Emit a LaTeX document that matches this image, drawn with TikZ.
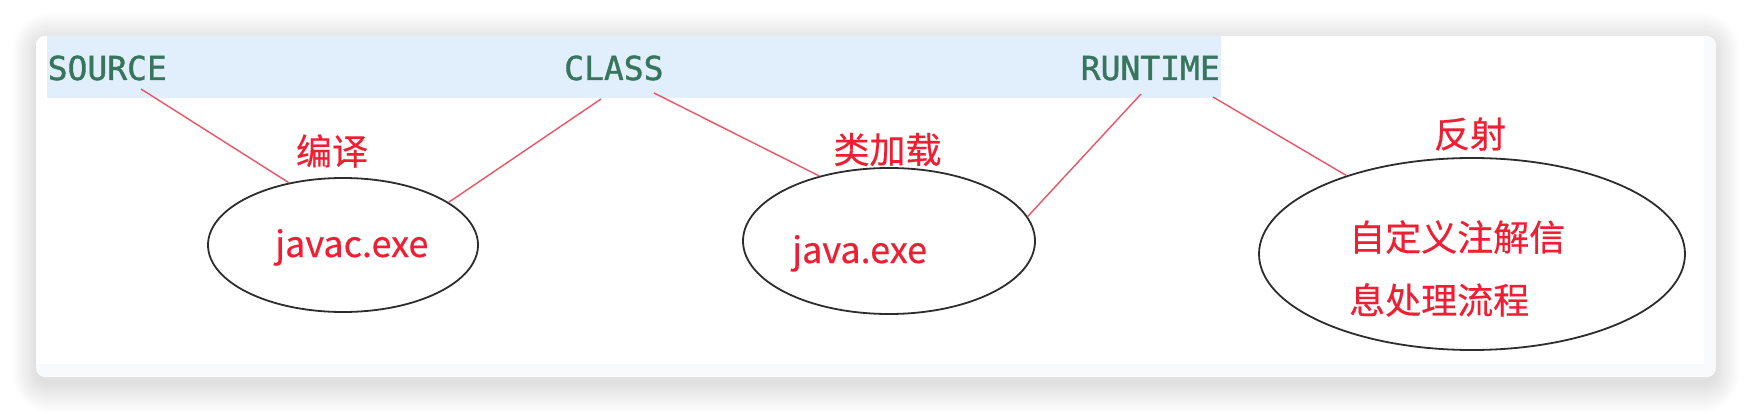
\documentclass[tikz,border=0pt]{standalone}
\usepackage{fontspec}
\newfontfamily\cjk[FakeBold=0.4]{Noto Sans CJK SC}
\newfontfamily\mono[FakeBold=1.2]{DejaVu Sans Mono}
\usetikzlibrary{shapes.geometric}
\definecolor{bandblue}{RGB}{225,238,252}
\definecolor{lblgreen}{RGB}{55,118,92}
\definecolor{txtred}{RGB}{240,30,50}
\definecolor{lnred}{RGB}{236,84,100}
\definecolor{stripgray}{RGB}{249,250,252}
\definecolor{ellgray}{RGB}{45,45,45}
\tikzset{
  phase/.style={anchor=base west, inner sep=0pt, text=lblgreen, font=\mono\fontsize{33}{40}\selectfont},
  redtxt/.style={inner sep=0pt, text=txtred, font=\cjk\fontsize{36}{63}\selectfont},
  oval/.style={ellipse, draw=ellgray, line width=1.8pt, inner sep=0pt},
  conn/.style={draw=lnred, line width=1.4pt},
}
\begin{document}
\begin{tikzpicture}[x=1pt,y=-1pt]
\useasboundingbox (0,0) rectangle (1752,414);
\fill[white] (0,0) rectangle (1752,414);
% soft shadow
\foreach \i in {0,...,30}{
  \fill[black, opacity=0.0048, rounded corners={(9+\i)*1pt}] ({36-0.8*\i},{36-\i+6}) rectangle ({1716+0.8*\i},{377+\i+6});
}
% card
\fill[stripgray, rounded corners=9pt] (36,36) rectangle (1716,377);
\begin{scope}
  \clip[rounded corners=9pt] (36,36) rectangle (1716,377);
  \fill[white] (36,36) rectangle (1704,364);
  \fill[bandblue] (47,36) rectangle (1221,98);
\end{scope}
% phase labels
\node[phase] (source) at (47.5,80) {SOURCE};
\node[phase] (class) at (564,80) {CLASS};
\node[phase] (runtime) at (1080.5,80) {RUNTIME};
% connector start points
\coordinate (s1) at (141,89);
\coordinate (c1) at (601,99);
\coordinate (c2) at (654,93);
\coordinate (r1) at (1141,94);
\coordinate (r2) at (1213,97);
% ellipses
\node[oval, minimum width=270pt, minimum height=134pt] (e1) at (343,245) {};
\node[oval, minimum width=292pt, minimum height=146pt] (e2) at (889,241) {};
\node[oval, minimum width=426pt, minimum height=192pt] (e3) at (1472,254) {};
% connectors
\draw[conn] (s1) -- (e1.131);
\draw[conn] (c1) -- (e1.22);
\draw[conn] (c2) -- (e2.137);
\draw[conn] (r1) -- (e2.10);
\draw[conn] (r2) -- (e3.148);
% labels
\node[redtxt] (l1) at (332,151) {编译};
\node[redtxt] (l2) at (887.5,149.5) {类加载};
\node[redtxt] (l3) at (1470,134) {反射};
\node[redtxt, anchor=base west] (t1) at (275,257) {javac.exe};
\node[redtxt, anchor=base west] (t2) at (792,263) {java.exe};
\node[redtxt, anchor=west, align=left] (t3) at (1349,268.5) {自定义注解信\\息处理流程};
\end{tikzpicture}
\end{document}
